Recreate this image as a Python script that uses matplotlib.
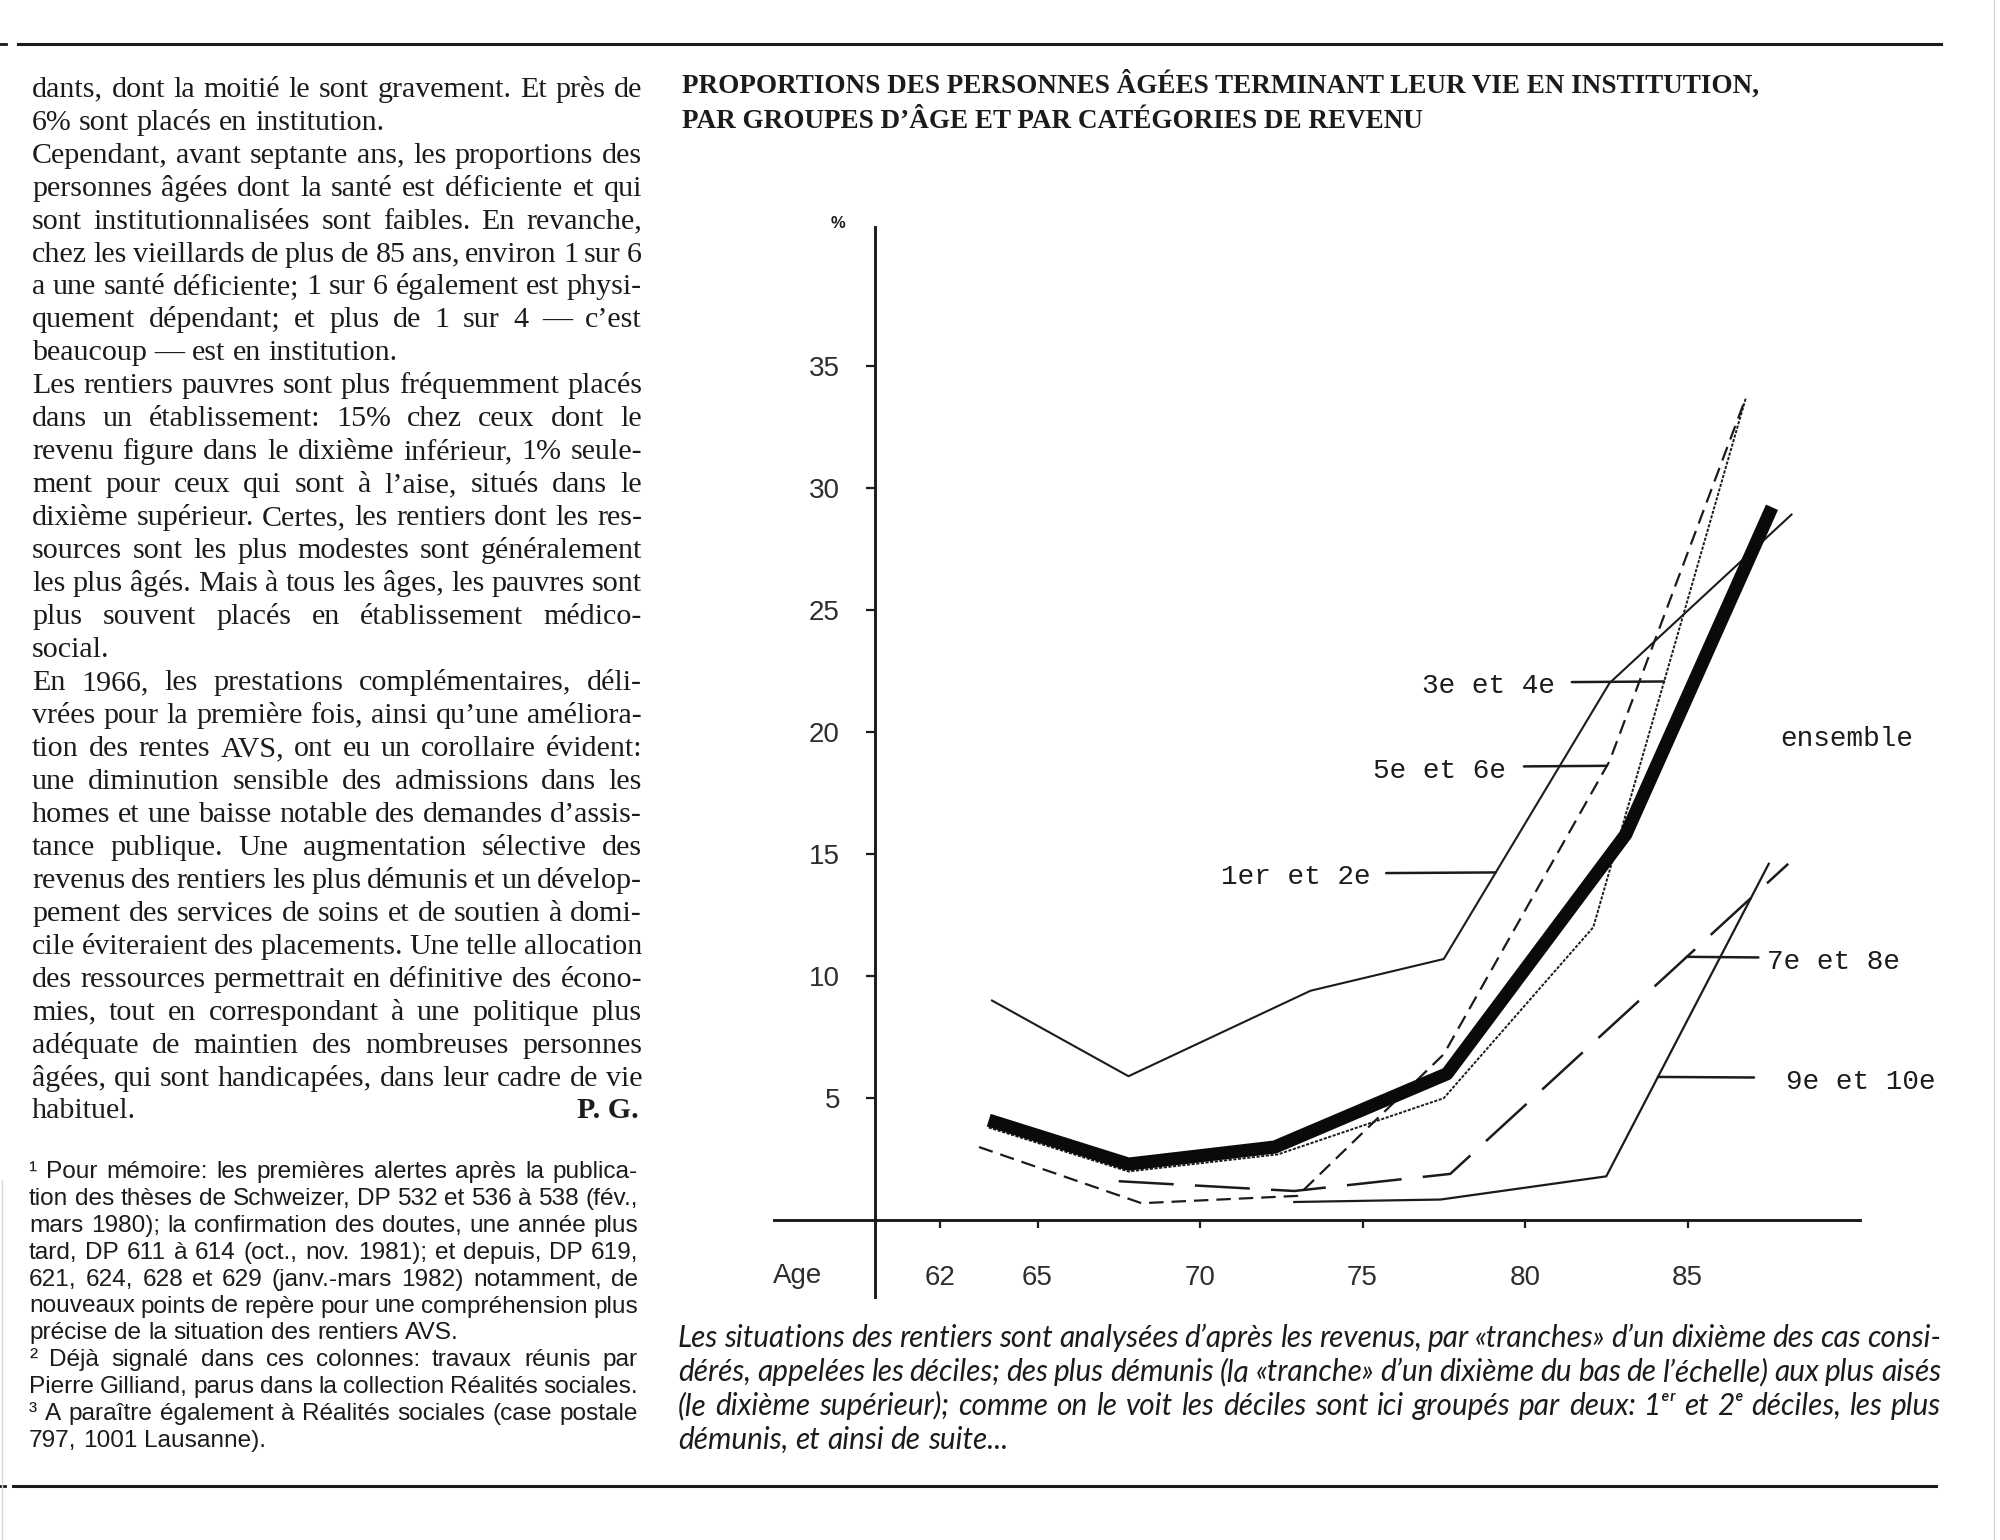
import matplotlib
matplotlib.use("Agg")
import matplotlib.pyplot as plt
import numpy as np
from matplotlib.font_manager import FontProperties
from matplotlib.lines import Line2D

plt.rcParams['font.family'] = ['Liberation Sans', 'DejaVu Sans']

# ---------------- data ----------------
ages_1_2 = [63.6, 67.8, 73.4, 77.5, 82.6, 88.2]
pct_1_2 = [9.0, 5.9, 9.4, 10.7, 22.0, 28.9]
ages_3_4 = [63.5, 67.8, 72.4, 77.5, 82.1, 86.8]
pct_3_4 = [3.8, 2.0, 2.7, 5.0, 12.0, 33.7]
ages_5_6 = [63.2, 68.2, 73.0, 77.5, 82.6, 86.8]
pct_5_6 = [3.0, 0.7, 1.0, 6.8, 18.8, 33.7]
ages_7_8 = [67.5, 72.9, 77.7, 88.1]
pct_7_8 = [1.6, 1.2, 1.9, 14.6]
ages_9_10 = [72.9, 77.4, 82.5, 87.5]
pct_9_10 = [0.75, 0.85, 1.8, 14.6]
ages_all = [63.5, 67.8, 72.3, 77.6, 83.1, 87.6]
pct_all = [4.1, 2.3, 3.0, 6.0, 15.8, 29.2]

x_ticks = [62, 65, 70, 75, 80, 85]
y_ticks = [5, 10, 15, 20, 25, 30, 35]

label_1_2 = "1er et 2e"
label_3_4 = "3e et 4e"
label_5_6 = "5e et 6e"
label_7_8 = "7e et 8e"
label_9_10 = "9e et 10e"
label_all = "ensemble"

title_lines = [
    "PROPORTIONS DES PERSONNES ÂGÉES TERMINANT LEUR VIE EN INSTITUTION,",
    "PAR GROUPES D’ÂGE ET PAR CATÉGORIES DE REVENU",
]

body_lines = [
    "dants, dont la moitié le sont gravement. Et près de",
    "6% sont placés en institution.",
    "Cependant, avant septante ans, les proportions des",
    "personnes âgées dont la santé est déficiente et qui",
    "sont institutionnalisées sont faibles. En revanche,",
    "chez les vieillards de plus de 85 ans, environ 1 sur 6",
    "a une santé déficiente; 1 sur 6 également est physi-",
    "quement dépendant; et plus de 1 sur 4 — c’est",
    "beaucoup — est en institution.",
    "Les rentiers pauvres sont plus fréquemment placés",
    "dans un établissement: 15% chez ceux dont le",
    "revenu figure dans le dixième inférieur, 1% seule-",
    "ment pour ceux qui sont à l’aise, situés dans le",
    "dixième supérieur. Certes, les rentiers dont les res-",
    "sources sont les plus modestes sont généralement",
    "les plus âgés. Mais à tous les âges, les pauvres sont",
    "plus souvent placés en établissement médico-",
    "social.",
    "En 1966, les prestations complémentaires, déli-",
    "vrées pour la première fois, ainsi qu’une améliora-",
    "tion des rentes AVS, ont eu un corollaire évident:",
    "une diminution sensible des admissions dans les",
    "homes et une baisse notable des demandes d’assis-",
    "tance publique. Une augmentation sélective des",
    "revenus des rentiers les plus démunis et un dévelop-",
    "pement des services de soins et de soutien à domi-",
    "cile éviteraient des placements. Une telle allocation",
    "des ressources permettrait en définitive des écono-",
    "mies, tout en correspondant à une politique plus",
    "adéquate de maintien des nombreuses personnes",
    "âgées, qui sont handicapées, dans leur cadre de vie",
    "habituel.",
]
body_last = {1, 8, 17, 31}
signature = "P. G."

note_lines = [
    "¹ Pour mémoire: les premières alertes après la publica-",
    "tion des thèses de Schweizer, DP 532 et 536 à 538 (fév.,",
    "mars 1980); la confirmation des doutes, une année plus",
    "tard, DP 611 à 614 (oct., nov. 1981); et depuis, DP 619,",
    "621, 624, 628 et 629 (janv.-mars 1982) notamment, de",
    "nouveaux points de repère pour une compréhension plus",
    "précise de la situation des rentiers AVS.",
    "² Déjà signalé dans ces colonnes: travaux réunis par",
    "Pierre Gilliand, parus dans la collection Réalités sociales.",
    "³ A paraître également à Réalités sociales (case postale",
    "797, 1001 Lausanne).",
]
note_last = {6, 10}

caption_lines = [
    "Les situations des rentiers sont analysées d’après les revenus, par «tranches» d’un dixième des cas consi-",
    "dérés, appelées les déciles; des plus démunis (la «tranche» d’un dixième du bas de l’échelle) aux plus aisés",
    "(le dixième supérieur); comme on le voit les déciles sont ici groupés par deux: 1ᵉʳ et 2ᵉ déciles, les plus",
    "démunis, et ainsi de suite...",
]
caption_last = {3}

# ---------------- figure ----------------
W, H, DPI = 2000, 1540, 100
INK = "#1b1b1b"
fig = plt.figure(figsize=(W / DPI, H / DPI), dpi=DPI)
fig.patch.set_facecolor("white")
renderer = fig.canvas.get_renderer()


def fx(px):
    return px / W


def fy(py):
    return 1 - py / H


def text_width(s, fp):
    w, h, d = renderer.get_text_width_height_descent(s, fp, ismath=False)
    return w


def space_width(fp):
    return text_width("n n", fp) - text_width("nn", fp)


def justified_block(lines, x0, x1, base0, dy, fp, last, tight=0.75,
                    lo=0.85, hi=1.12, color=INK):
    width = x1 - x0
    base_size = fp.get_size_in_points()

    def need(p):
        sp = space_width(p)
        r = 0.0
        for i, ln in enumerate(lines):
            if i in last:
                continue
            ws = ln.split(" ")
            tot = sum(text_width(w, p) for w in ws) + (len(ws) - 1) * tight * sp
            r = max(r, tot / width)
        return r

    r = need(fp)
    fp.set_size(base_size * min(max(1.0 / r, lo), hi))
    r2 = need(fp)
    if r2 > 1:
        fp.set_size(fp.get_size_in_points() / r2)
    sp = space_width(fp)
    for i, ln in enumerate(lines):
        ws = ln.split(" ")
        wd = [text_width(w, fp) for w in ws]
        if i in last or len(ws) == 1:
            gap = sp
        else:
            gap = (width - sum(wd)) / (len(ws) - 1)
        x = x0
        y = base0 + i * dy
        for w, d in zip(ws, wd):
            fig.text(fx(x), fy(y), w, fontproperties=fp, ha="left",
                     va="baseline", color=color)
            x += d + gap
    return fp


# page rules
fig.add_artist(Line2D([fx(18), fx(1941)], [fy(44), fy(44)], lw=2.2, color=INK))
fig.add_artist(Line2D([fx(0), fx(6)], [fy(44), fy(44)], lw=2.0, color=INK))
fig.add_artist(Line2D([fx(13), fx(1936)], [fy(1486), fy(1486)], lw=2.2, color=INK))
fig.add_artist(Line2D([fx(0), fx(5)], [fy(1486), fy(1486)], lw=2.0, color=INK))
fig.add_artist(Line2D([fx(1994), fx(1994)], [fy(0), fy(1540)], lw=1.0, color="#d4d4d4"))
fig.add_artist(Line2D([fx(2), fx(2)], [fy(1180), fy(1540)], lw=1.0, color="#dadada"))

# left column text
fp_body = FontProperties(family=["Liberation Serif", "DejaVu Serif"], size=20)
fp_body = justified_block(body_lines, 32, 642, 96.7, 32.96, fp_body, body_last)
fp_sig = fp_body.copy()
fp_sig.set_weight("bold")
fig.text(fx(639), fy(96.7 + 31 * 32.96), signature, fontproperties=fp_sig,
         ha="right", va="baseline", color=INK)

fp_note = FontProperties(family=["Liberation Sans", "DejaVu Sans"], size=14.5)
justified_block(note_lines, 29, 638, 1178.3, 26.84, fp_note, note_last,
                tight=0.8, hi=1.35)

# title
fp_title = FontProperties(family=["Liberation Serif", "DejaVu Serif"], size=17.5,
                          weight="bold")
tw = text_width(title_lines[0], fp_title)
fp_title.set_size(17.5 * 1075.0 / tw)
fig.text(fx(682), fy(92.7), title_lines[0], fontproperties=fp_title, ha="left",
         va="baseline", color=INK)
fig.text(fx(682), fy(128.4), title_lines[1], fontproperties=fp_title, ha="left",
         va="baseline", color=INK)

# caption
fp_cap = FontProperties(family=["Lato", "DejaVu Sans"], style="italic", size=18)
justified_block(caption_lines, 678, 1941, 1347, 34.0, fp_cap, caption_last,
                tight=0.85, hi=1.3)

# ---------------- chart ----------------
ax = fig.add_axes([0.380625, 0.14417, 0.56875, 0.71356])
ax.set_xlim(56.5, 91.5)
ax.set_ylim(-4, 41)
ax.patch.set_alpha(0)
for s in ["top", "right"]:
    ax.spines[s].set_visible(False)
ax.spines["left"].set_position(("data", 60))
ax.spines["bottom"].set_position(("data", 0))
ax.spines["left"].set_bounds(-3.14, 40.67)
ax.spines["bottom"].set_bounds(56.9, 90.3)
for s in ["left", "bottom"]:
    ax.spines[s].set_linewidth(2.1)
    ax.spines[s].set_color(INK)
ax.set_xticks(x_ticks)
ax.set_yticks(y_ticks)
ax.tick_params(axis="x", direction="out", length=5.5, width=1.6, pad=26.5,
               labelsize=20, color=INK, labelcolor="#2e2e2e")
ax.tick_params(axis="y", direction="out", length=6.3, width=1.6, pad=18.9,
               labelsize=20, color=INK, labelcolor="#2e2e2e")

ax.plot(ages_1_2, pct_1_2, color=INK, lw=1.5, zorder=3)
ax.plot(ages_3_4, pct_3_4, color=INK, lw=1.4, linestyle=(0, (1.6, 0.8)), zorder=3)
ax.plot(ages_5_6, pct_5_6, color=INK, lw=1.6, linestyle=(0, (6.5, 3.6)), zorder=3)
ax.plot(ages_7_8, pct_7_8, color=INK, lw=1.8, linestyle=(0, (22, 8.5)), zorder=3)
ax.plot(ages_9_10, pct_9_10, color=INK, lw=1.6, zorder=3)
ax.plot(ages_all, pct_all, color="#0a0a0a", lw=9.5, solid_joinstyle="round",
        solid_capstyle="butt", zorder=4)

mono = ["Liberation Mono", "DejaVu Sans Mono"]


def pointer(label, ages, pcts, at_age, text_age, side, gap, drop=0.2):
    y = float(np.interp(at_age, ages, pcts))
    ha = "right" if side == "left" else "left"
    rel = (1, 0.66) if side == "left" else (0, 0.66)
    ax.annotate(label, xy=(at_age, y), xytext=(text_age, y - drop), ha=ha,
                va="center", fontfamily=mono, fontsize=20, color=INK, zorder=5,
                arrowprops=dict(arrowstyle="-", lw=1.8, color=INK, shrinkA=gap,
                                shrinkB=0, relpos=rel))


pointer(label_1_2, ages_1_2, pct_1_2, 79.1, 75.26, "left", 9)
pointer(label_3_4, ages_3_4, pct_3_4, 84.28, 80.91, "left", 10.4)
pointer(label_5_6, ages_5_6, pct_5_6, 82.52, 79.42, "left", 10.8)
pointer(label_7_8, ages_7_8, pct_7_8, 84.98, 87.45, "right", 4.3)
pointer(label_9_10, ages_9_10, pct_9_10, 84.09, 88.03, "right", 21)
ax.text(87.85, 19.7, label_all, ha="left", va="center", fontfamily=mono,
        fontsize=20, color=INK)

ax.text(56.87, -2.27, "Age", ha="left", va="center", fontsize=20, color="#2e2e2e")
ax.text(58.86, 40.84, "%", ha="center", va="center", fontsize=12,
        fontweight="bold", color=INK)

fig.savefig("out.png", dpi=DPI, facecolor="white")
